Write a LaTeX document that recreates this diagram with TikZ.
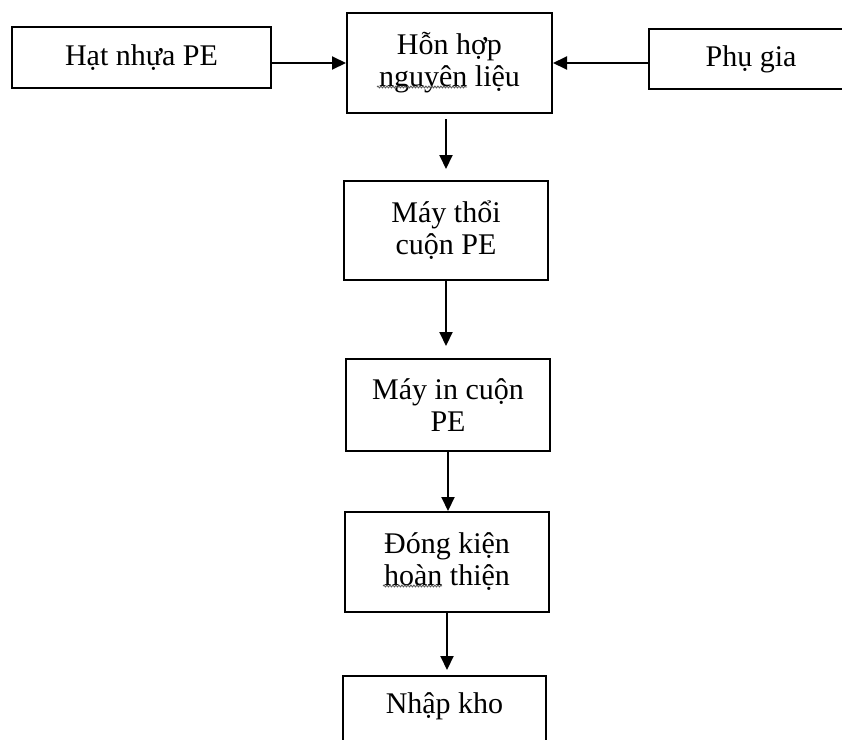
\documentclass[tikz,border=0pt]{standalone}
\usepackage{fontspec}
\setmainfont{Liberation Serif}
\usetikzlibrary{arrows.meta,decorations.pathmorphing}
\tikzset{
	khung/.style={draw, line width=2pt, align=center, inner sep=0pt, font=\fontsize{30}{32}\selectfont},
	muiten/.style={line width=2pt, -{Triangle[length=14pt,width=13pt]}},
	gachsong/.style={draw=black!65, line width=0.9pt, decorate, decoration={snake, amplitude=0.9pt, segment length=3pt}}
}

\begin{document}
\begin{tikzpicture}[x=1pt,y=1pt]
	%%%%% START %%%%%
	
	\useasboundingbox (0,0) rectangle (842,-739);
	\clip (0,0) rectangle (842,-739);
	
	\node[khung, minimum width=259pt, minimum height=61pt] (hat) at (141.5,-57.5) {Hạt nhựa PE};
	\node[khung, minimum width=205pt, minimum height=100pt] (hon) at (449.5,-63) {Hỗn hợp\\nguyên liệu};
	\node[khung, minimum width=204pt, minimum height=60pt] (phu) at (751,-59) {Phụ gia};
	
	\node[khung, minimum width=204pt, minimum height=99pt] (thoi) at (446,-230.5) {Máy thổi\\cuộn PE};
	\node[khung, minimum width=204pt, minimum height=92pt] (mayin) at (448,-405) {Máy in cuộn\\PE};
	\node[khung, minimum width=204pt, minimum height=100pt] (dong) at (447,-562) {Đóng kiện\\hoàn thiện};
	\node[khung, minimum width=203pt, text height=25pt, text depth=60pt, inner ysep=12pt, anchor=north] (nhap) at (444.5,-675) {Nhập kho};
	
	% spell-check squiggles
	\draw[gachsong] (377,-87) -- (467,-87);
	\draw[gachsong] (383,-586) -- (442,-586);
	
	\draw[muiten] (hat.east |- hon.west) -- (hon.west);
	\draw[muiten] (phu.west |- hon.east) -- (hon.east);
	
	\draw[muiten, shorten <=5pt, shorten >=11pt] (hon.south -| thoi.north) -- (thoi.north);
	\draw[muiten, shorten >=12pt] (thoi.south) -- (thoi.south |- mayin.north);
	\draw[muiten] (mayin.south) -- (mayin.south |- dong.north);
	\draw[muiten, shorten >=5pt] (dong.south) -- (dong.south |- nhap.north);
	
	%%%%% END %%%%%
\end{tikzpicture}
\end{document}
